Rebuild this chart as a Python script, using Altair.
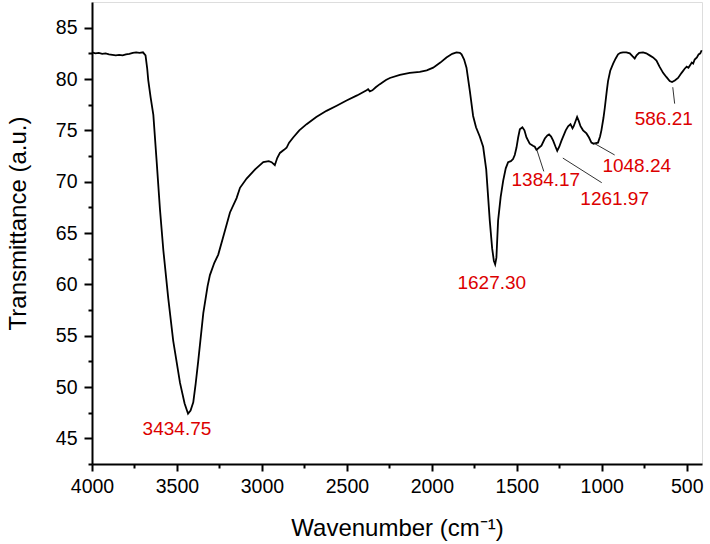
import altair as alt
import pandas as pd

# Spectrum (wavenumber cm-1, transmittance a.u.)
wavenumber = [
    4000, 3980, 3960, 3940, 3920, 3900, 3880, 3860, 3840, 3820, 3800, 3780, 3760, 3740,
    3720, 3700, 3685, 3675, 3669, 3655, 3639, 3620, 3600, 3580, 3551, 3522, 3482, 3455,
    3434.75, 3420, 3404, 3390, 3375, 3345, 3320, 3306, 3280, 3257, 3230, 3188, 3149, 3129,
    3090, 3040, 2992, 2960, 2943, 2924, 2910, 2894, 2870, 2855, 2840, 2816, 2780, 2737,
    2680, 2620, 2560, 2502, 2440, 2384, 2375, 2365, 2350, 2330, 2306, 2270, 2247, 2188,
    2130, 2071, 2030, 1992, 1950, 1914, 1880, 1855, 1835, 1825, 1810, 1796, 1776, 1757,
    1740, 1718, 1698, 1680, 1659, 1645, 1635, 1627.30, 1620, 1610, 1595, 1580, 1565, 1551,
    1535, 1522, 1512, 1502, 1492, 1482, 1467, 1455, 1443, 1424, 1405, 1394, 1384.17, 1370,
    1355, 1335, 1320, 1310, 1298, 1286, 1272, 1261.97, 1250, 1237, 1212, 1198, 1184, 1172,
    1165, 1145, 1135, 1125, 1110, 1090, 1075, 1061, 1048.24, 1035, 1022, 1010, 1002, 990,
    982, 970, 963, 950, 933, 918, 904, 890, 875, 855, 835, 818, 806, 795,
    780, 757, 738, 718, 698, 678, 660, 639, 620, 600, 586.21, 570, 551, 530,
    512, 500, 490, 482, 470, 462, 453, 440, 430, 420, 412,
]
transmittance = [
    82.6, 82.5, 82.55, 82.45, 82.5, 82.4, 82.35, 82.3, 82.35, 82.3, 82.4, 82.45, 82.55, 82.6,
    82.55, 82.6, 82.3, 81.0, 79.9, 78.2, 76.5, 72.1, 67.3, 63.3, 58.6, 54.5, 50.4, 48.4,
    47.4, 47.7, 48.5, 50.3, 52.5, 57.2, 59.8, 60.9, 62.1, 62.9, 64.5, 67.0, 68.4, 69.4,
    70.3, 71.2, 71.9, 72.0, 71.9, 71.6, 72.3, 72.8, 73.1, 73.3, 73.8, 74.3, 75.0, 75.6,
    76.3, 76.9, 77.4, 77.9, 78.4, 78.9, 79.0, 78.8, 78.9, 79.2, 79.5, 79.9, 80.1, 80.4,
    80.6, 80.7, 80.85, 81.1, 81.6, 82.1, 82.45, 82.6, 82.55, 82.4, 81.9, 81.1, 78.8, 76.4,
    75.3, 74.4, 73.4, 71.2, 66.2, 63.5, 62.3, 61.95, 62.6, 66.2, 68.5, 70.1, 71.3, 71.9,
    72.0, 72.2, 72.6, 73.3, 74.3, 75.1, 75.3, 75.0, 74.3, 73.7, 73.5, 73.4, 73.1, 73.3,
    73.5, 74.2, 74.5, 74.6, 74.4, 74.0, 73.4, 73.0, 73.4, 74.0, 75.0, 75.4, 75.6, 75.2,
    75.4, 76.3, 75.9, 75.4, 75.0, 74.7, 74.3, 73.8, 73.7, 73.75, 73.8, 74.4, 75.0, 76.2,
    77.2, 78.9, 79.8, 80.8, 81.5, 82.0, 82.4, 82.55, 82.6, 82.6, 82.5, 82.2, 82.0, 82.3,
    82.55, 82.6, 82.5, 82.3, 82.1, 81.8, 81.2, 80.6, 80.2, 79.8, 79.7, 79.85, 80.1, 80.6,
    81.0, 81.2, 81.1, 81.3, 81.6, 81.5, 81.9, 82.1, 82.4, 82.5, 82.8,
]

# Peak labels (text and where it sits, in data units)
peak_labels = ["3434.75", "1627.30", "1384.17", "1261.97", "1048.24", "586.21"]
label_x = [3500, 1647, 1329, 924, 794, 635]
label_y = [45.9, 60.1, 70.2, 68.3, 71.5, 76.1]

# Leader lines from peak to label (data units)
lead_x1 = [1382, 1229, 1041, 582]
lead_y1 = [73.1, 72.3, 73.7, 79.2]
lead_x2 = [1341, 1000, 924, 571]
lead_y2 = [71.0, 69.9, 72.6, 77.6]

x_major = [4000, 3500, 3000, 2500, 2000, 1500, 1000, 500]
x_minor = [3750, 3250, 2750, 2250, 1750, 1250, 750]
y_major = [45, 50, 55, 60, 65, 70, 75, 80, 85]
y_minor = [42.5, 47.5, 52.5, 57.5, 62.5, 67.5, 72.5, 77.5, 82.5]

x_domain = [410, 4000]
y_domain = [42.5, 87.5]

spec_df = pd.DataFrame({"wn": wavenumber, "t": transmittance})
lab_df = pd.DataFrame({"x": label_x, "y": label_y, "label": peak_labels})
lead_df = pd.DataFrame({"x": lead_x1, "y": lead_y1, "x2": lead_x2, "y2": lead_y2})

FONT = "Liberation Sans"
RED = "#dc0000"

xscale = alt.Scale(domain=x_domain, reverse=True, nice=False, zero=False)
yscale = alt.Scale(domain=y_domain, nice=False, zero=False)

common_axis = dict(
    domainColor="black", domainWidth=2, tickColor="black", tickWidth=2,
    labelColor="black", titleColor="black", grid=False,
    labelFont=FONT, titleFont=FONT, labelFontSize=19.5, titleFontSize=24,
    titleFontWeight="normal",
)

line = alt.Chart(spec_df).mark_line(color="black", strokeWidth=1.8).encode(
    x=alt.X("wn:Q", scale=xscale,
            axis=alt.Axis(orient="bottom", values=x_major, tickSize=7, labelPadding=6,
                          format="d", labelFlush=False, labelOverlap=False,
                          title="Wavenumber (cm\u207b\u00b9)",
                          titleX=305, titleY=64, titleAlign="center", titleBaseline="middle",
                          **common_axis)),
    y=alt.Y("t:Q", scale=yscale,
            axis=alt.Axis(orient="left", values=y_major, tickSize=8, labelPadding=7,
                          format="d", labelFlush=False, labelOverlap=False,
                          title="Transmittance (a.u.)",
                          titleX=-74, titleY=221, titleAngle=270,
                          titleAlign="center", titleBaseline="middle",
                          **common_axis)),
    order=alt.Order("index:Q"),
).transform_window(index="row_number()")

labels = alt.Chart(lab_df).mark_text(
    color=RED, font=FONT, fontSize=19, align="center", baseline="middle"
).encode(
    x=alt.X("x:Q", scale=xscale,
            axis=alt.Axis(orient="bottom", values=x_minor, tickSize=4, labels=False,
                          domain=False, title=None, grid=False, tickColor="black", tickWidth=2)),
    y=alt.Y("y:Q", scale=yscale,
            axis=alt.Axis(orient="left", values=y_minor, tickSize=4, labels=False,
                          domain=False, title=None, grid=False, tickColor="black", tickWidth=2)),
    text="label:N",
)

leaders = alt.Chart(lead_df).mark_rule(color="#333333", strokeWidth=1).encode(
    x=alt.X("x:Q", scale=xscale, axis=None),
    y=alt.Y("y:Q", scale=yscale, axis=None),
    x2="x2:Q",
    y2="y2:Q",
)

chart = alt.layer(line, leaders, labels).resolve_axis(
    x="independent", y="independent"
).properties(
    width=610, height=462,
    autosize=alt.AutoSizeParams(type="none"),
    padding={"left": 92, "top": 2, "right": 8, "bottom": 80},
).configure_view(
    stroke="black", strokeWidth=2
).configure(
    font=FONT, background="white"
)

chart.save("out.html", embed_options={"renderer": "svg", "actions": False})
